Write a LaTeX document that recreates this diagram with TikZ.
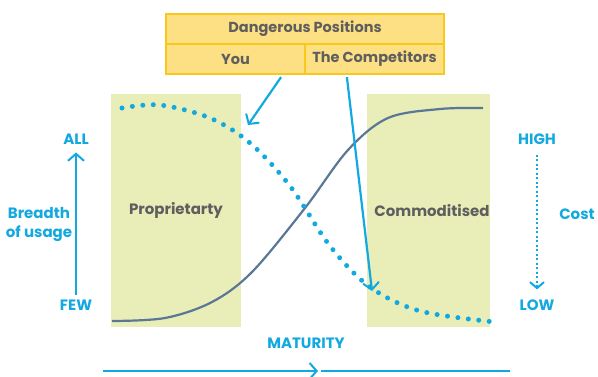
\documentclass[tikz,border=0pt]{standalone}
\usepackage{fontspec}
\setmainfont{Poppins}
\usetikzlibrary{arrows.meta}
\definecolor{cy}{HTML}{12A9E0}
\definecolor{gtxt}{HTML}{5E5E5E}
\definecolor{crv}{HTML}{5A7896}
\definecolor{grn}{HTML}{E9EDB8}
\definecolor{yfill}{HTML}{FDE083}
\definecolor{yline}{HTML}{F8C91B}
\tikzset{
  cell/.style={draw=yline, fill=yfill, line width=2.2pt, minimum height=30pt, inner sep=0pt,
     font=\fontsize{14.5}{15}\selectfont\bfseries, text=gtxt},
  box/.style={fill=grn, draw=none, minimum width=#1, minimum height=233pt, inner sep=0pt,
     font=\fontsize{15}{16}\selectfont\bfseries, text=gtxt},
  lab/.style={text=cy, font=\fontsize{15}{19}\selectfont\bfseries, inner sep=1pt},
  barb/.style={-{Straight Barb[length=7pt,width=16pt,line width=2pt]}},
  cyline/.style={draw=cy, line width=2.2pt},
}
\begin{document}
\begin{tikzpicture}[x=1pt,y=-1pt]
\useasboundingbox (0,0) rectangle (598,376);
% green boxes
\node[box=130pt] (prop) at (176,210.5) {Proprietarty};
\node[box=119pt] (comm) at (428.5,210.5) {\hspace*{7pt}Commoditised};
% curves
\draw[crv, line width=2.2pt] plot[smooth, tension=0.55] coordinates {(112,321) (165,318) (212,302) (252,272) (305,208) (348,150) (388,118) (440,109) (483,108)};
\draw[cy, line width=5pt, line cap=round, dash pattern=on 0pt off 10.5pt] plot[smooth, tension=0.55] coordinates {(122,108) (160,105) (210,118) (250,143) (290,186) (330,246) (370,287) (420,311) (495,322)};
\coordinate (youtip) at (248,125);
\coordinate (comptip) at (372,291);
% table
\node[cell, minimum width=278pt] (dp) at (305,29) {Dangerous Positions};
\node[cell, minimum width=139pt] (you) at (235.5,59) {You};
\node[cell, minimum width=139pt] (comp) at (374.5,59) {The Competitors};
\draw[cyline, barb] (you.south east) ++(-25,2) coordinate (yst) -- (youtip);
\draw[cyline, barb] (comp.south west) ++(43,2) coordinate (cst) -- (comptip);
% left axis
\node[lab] (all) at (76,139) {ALL};
\node[lab] (few) at (76,305) {FEW};
\node[lab, align=center] (breadth) at (39,225) {Breadth\\of usage};
\draw[cyline, barb] ([yshift=4pt]few.north) -- ([yshift=-7pt]all.south);
% right axis
\node[lab] (high) at (537,139) {HIGH};
\node[lab] (low) at (537,305) {LOW};
\node[lab] (cost) at (577,214) {Cost};
\draw[cy, line width=2pt, dash pattern=on 2pt off 2.5pt, -{Straight Barb[length=6pt,width=14pt,line width=2pt]}] ([yshift=-9pt]high.south) -- ([yshift=9pt]low.north);
% maturity
\node[lab] (mat) at (306,343) {MATURITY};
\coordinate (m1) at (103,371);
\coordinate (m2) at (318,371);
\coordinate (m3) at (321,371);
\coordinate (m4) at (510,371);
\draw[cyline, barb] (m1) -- (m2);
\draw[cyline] (m3) -- (m4);
\end{tikzpicture}
\end{document}
